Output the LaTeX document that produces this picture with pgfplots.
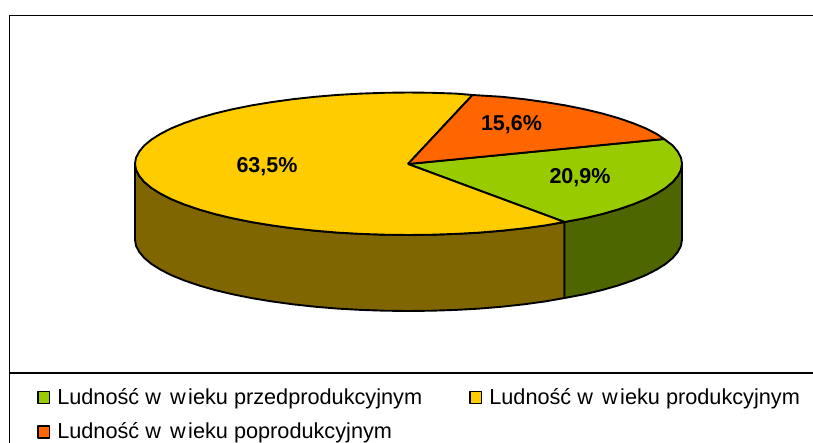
\documentclass[border=0pt]{standalone}
\usepackage{pgfplots}
\pgfplotsset{compat=1.18}
\usepackage{fontspec}
\setmainfont{Liberation Sans}
\definecolor{pgreen}{HTML}{99CC00}
\definecolor{pyellow}{HTML}{FFCC00}
\definecolor{porange}{HTML}{FF6600}
\definecolor{dgreen}{HTML}{4D6600}
\definecolor{dyellow}{HTML}{806600}
\newcommand{\ww}{w\kern3bp\ w\kern2.5bp ieku}
\begin{document}
\begin{tikzpicture}
\path[use as bounding box] (0,0) rectangle (813bp,443bp);
\begin{axis}[
  hide axis, scale only axis, width=813bp, height=443bp,
  xmin=0, xmax=813, ymin=0, ymax=443, y dir=reverse,
  legend cell align=left,
  legend columns=2,
  legend style={at={(axis cs:37,386)}, anchor=north west, draw=none, fill=none,
    font=\fontsize{21.7bp}{24bp}\selectfont,
    row sep=13bp,
    inner sep=0pt,
    /tikz/every even column/.append style={column sep=45bp}},
  legend image code/.code={\draw[#1,line width=1.5bp] (0.7bp,-6.5bp) rectangle (12.3bp,5.5bp);},
  every axis plot/.append style={line width=1.9bp, line join=round, draw=black},
]
% side, yellow slice
\addplot[fill=dyellow, forget plot] coordinates {
(135,163.5)(136,169.7)(139.2,175.9)(144.3,182)(151.5,188)(160.6,193.7)(171.6,199.3)(184.4,204.5)(199,209.5)(215.1,214.1)(232.7,218.3)(251.6,222.1)(271.7,225.4)(292.9,228.3)(315,230.7)(337.7,232.6)(361,233.9)(384.7,234.7)(408.5,235)(432.3,234.7)(456,233.9)(479.3,232.6)(502,230.7)(524.1,228.3)(545.3,225.4)(564.5,222)
(564.5,298)(545.3,301.4)(524.1,304.3)(502,306.7)(479.3,308.6)(456,309.9)(432.3,310.7)(408.5,311)(384.7,310.7)(361,309.9)(337.7,308.6)(315,306.7)(292.9,304.3)(271.7,301.4)(251.6,298.1)(232.7,294.3)(215.1,290.1)(199,285.5)(184.4,280.5)(171.6,275.3)(160.6,269.7)(151.5,264)(144.3,258)(139.2,251.9)(136,245.7)(135,239.5)(135,163.5)};
% side, green slice
\addplot[fill=dgreen, forget plot] coordinates {
(564.5,222)(584.3,218.3)(601.9,214.1)(618,209.5)(632.6,204.5)(645.4,199.3)(656.4,193.7)(665.5,188)(672.7,182)(677.8,175.9)(681,169.7)(682,163.5)
(682,239.5)(681,245.7)(677.8,251.9)(672.7,258)(665.5,264)(656.4,269.7)(645.4,275.3)(632.6,280.5)(618,285.5)(601.9,290.1)(584.3,294.3)(564.5,298)(564.5,222)};
% top: 20.9 %
\addplot[fill=pgreen] coordinates {
(408,164)(564.5,222)(584.3,218.3)(601.9,214.1)(618,209.5)(632.6,204.5)(645.4,199.3)(656.4,193.7)(665.5,188)(672.7,182)(677.8,175.9)(681,169.7)(682,163.5)(681,157.8)(677.8,151.6)(672.7,145.5)(664,139)(408,164)};
\addlegendentry{\hspace{5bp}Ludność \ww{} przedprodukcyjnym}
% top: 63.5 %
\addplot[fill=pyellow] coordinates {
(408,164)(472.5,95)(456,93.6)(432.3,92.8)(408.5,92.5)(384.7,92.8)(361,93.6)(337.7,94.9)(315,96.8)(292.9,99.2)(271.7,102.1)(251.6,105.4)(232.7,109.2)(215.1,113.4)(199,118)(184.4,123)(171.6,128.2)(160.6,133.8)(151.5,139.5)(144.3,145.5)(139.2,151.6)(136,157.8)(135,163.5)(136,169.7)(139.2,175.9)(144.3,182)(151.5,188)(160.6,193.7)(171.6,199.3)(184.4,204.5)(199,209.5)(215.1,214.1)(232.7,218.3)(251.6,222.1)(271.7,225.4)(292.9,228.3)(315,230.7)(337.7,232.6)(361,233.9)(384.7,234.7)(408.5,235)(432.3,234.7)(456,233.9)(479.3,232.6)(502,230.7)(524.1,228.3)(545.3,225.4)(564.5,222)(408,164)};
\addlegendentry{\hspace{5bp}Ludność \ww{} produkcyjnym}
% top: 15.6 %
\addplot[fill=porange] coordinates {
(408,164)(664,139)(656.4,133.8)(645.4,128.2)(632.6,123)(618,118)(601.9,113.4)(584.3,109.2)(565.4,105.4)(545.3,102.1)(524.1,99.2)(502,96.8)(472.5,95)(408,164)};
\addlegendentry{\hspace{5bp}Ludność \ww{} poprodukcyjnym}
\node[font=\fontsize{21.5bp}{24bp}\selectfont\bfseries] at (axis cs:267,166.5) {63,5\%};
\node[font=\fontsize{21.5bp}{24bp}\selectfont\bfseries] at (axis cs:580,177.5) {20,9\%};
\node[font=\fontsize{21.5bp}{24bp}\selectfont\bfseries] at (axis cs:511.5,124.5) {15,6\%};
\draw[black, line width=1.6bp] (axis cs:9.5,443) -- (axis cs:9.5,15.5) -- (axis cs:813,15.5);
\draw[black, line width=1.4bp] (axis cs:9.5,373) -- (axis cs:813,373);
\end{axis}
\end{tikzpicture}
\end{document}
